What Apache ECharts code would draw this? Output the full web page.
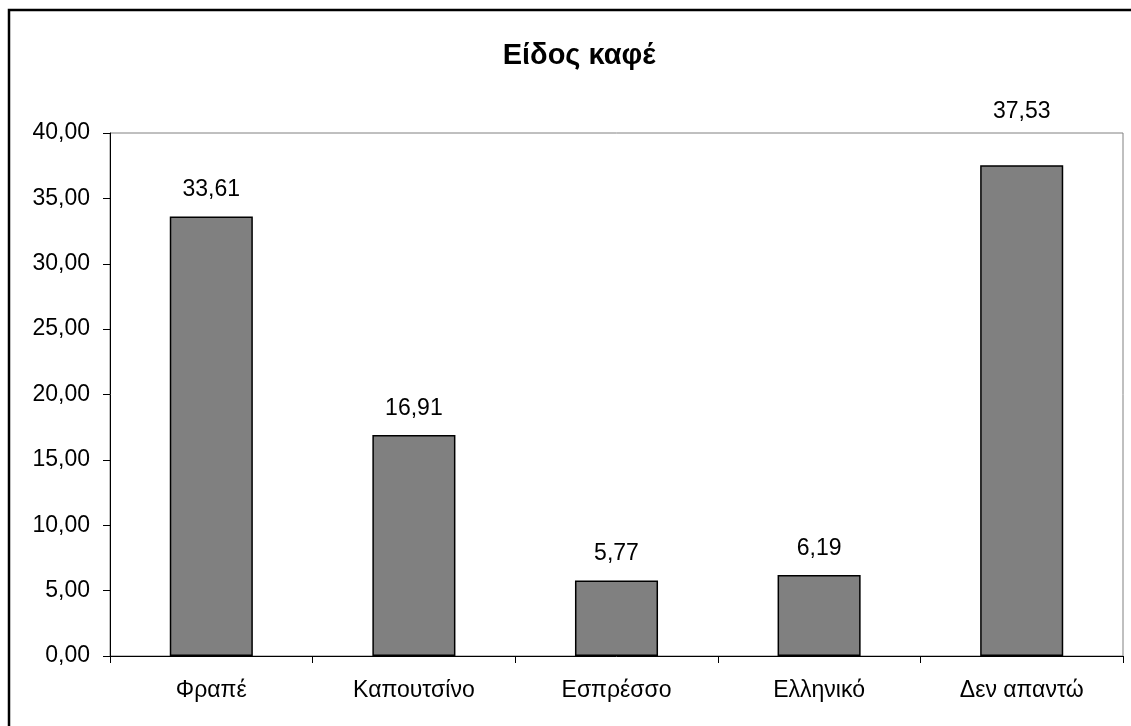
<!DOCTYPE html>
<html>
<head>
<meta charset="utf-8">
<script src="https://cdn.jsdelivr.net/npm/echarts@6/dist/echarts.min.js"></script>
<style>
  html, body { margin: 0; padding: 0; background: #fff; }
  #chart { width: 1131px; height: 726px; }
</style>
</head>
<body>
<div id="chart"></div>
<script>
// Coffee type survey shares (%)
const categories = ['Φραπέ', 'Καπουτσίνο', 'Εσπρέσσο', 'Ελληνικό', 'Δεν απαντώ'];
const shares = [33.61, 16.91, 5.77, 6.19, 37.53];
const yTicks = { min: 0, max: 40, interval: 5 };

const fmt = v => v.toFixed(2).replace('.', ',');
const FONT = '"Liberation Sans", Arial, sans-serif';

// the tallest bar's label sits above the plot frame
const barData = shares.map((v, i) =>
  i === shares.length - 1 ? { value: v, label: { distance: 42 } } : v
);

const chart = echarts.init(document.getElementById('chart'), null, { renderer: 'canvas' });
chart.setOption({
  backgroundColor: '#ffffff',
  animation: false,
  title: {
    text: 'Είδος καφέ',
    left: 574, top: 36, textAlign: 'center',
    textStyle: { fontFamily: FONT, fontWeight: 'bold', fontSize: 29, color: '#000' }
  },
  graphic: [{
    type: 'rect',
    shape: { x: 9, y: 10, width: 1200, height: 800 },
    style: { fill: 'none', stroke: '#000', lineWidth: 2.5 },
    silent: true
  }],
  grid: {
    left: 110, top: 133, right: 8, bottom: 70,
    show: true, borderColor: '#808080', borderWidth: 1, backgroundColor: 'transparent'
  },
  xAxis: {
    type: 'category',
    data: categories,
    axisLine: { show: true, lineStyle: { color: '#000', width: 1 } },
    axisTick: { show: true, length: 7, lineStyle: { color: '#000' } },
    axisLabel: { margin: 23, fontFamily: FONT, fontSize: 23, color: '#000' },
    splitLine: { show: false }
  },
  yAxis: {
    type: 'value',
    min: yTicks.min, max: yTicks.max, interval: yTicks.interval,
    axisLine: { show: true, lineStyle: { color: '#000', width: 1 } },
    axisTick: { show: true, length: 7, lineStyle: { color: '#000' } },
    axisLabel: { margin: 20, fontFamily: FONT, fontSize: 23, color: '#000', formatter: fmt },
    splitLine: { show: false }
  },
  series: [{
    type: 'bar',
    data: barData,
    barWidth: '41%',
    itemStyle: { color: '#808080', borderColor: '#000', borderWidth: 1.5 },
    label: {
      show: true, position: 'top', distance: 15,
      fontFamily: FONT, fontSize: 23, color: '#000',
      formatter: p => fmt(p.value)
    }
  }]
});
</script>
</body>
</html>
